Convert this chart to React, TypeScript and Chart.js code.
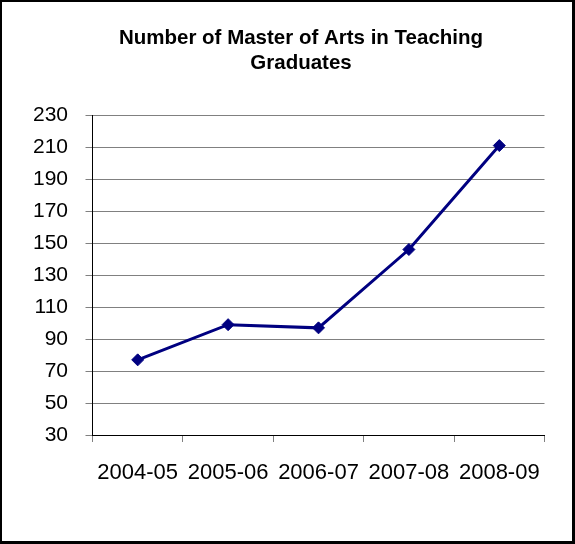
import React, { useEffect, useRef } from "react";
import { Chart, registerables } from "chart.js";

Chart.register(...registerables);

const categories = ["2004-05", "2005-06", "2006-07", "2007-08", "2008-09"];
const graduates = [77, 99, 97, 146, 211];
const titleLines = ["Number of Master of Arts in Teaching", "Graduates"];
const yMin = 30;
const yMax = 230;
const yStep = 20;

const FONT = "'Liberation Sans', Arial, sans-serif";

export default function App() {
  const ref = useRef<HTMLCanvasElement | null>(null);

  useEffect(() => {
    if (!ref.current) return;
    const chart = new Chart(ref.current, {
      type: "line",
      data: {
        labels: categories,
        datasets: [
          {
            data: graduates,
            borderColor: "#000080",
            backgroundColor: "#000080",
            borderWidth: 3,
            pointStyle: "rectRot",
            pointRadius: 6,
            pointBackgroundColor: "#000080",
            pointBorderColor: "#000080",
            pointBorderWidth: 1,
            tension: 0,
            yAxisID: "y",
          },
        ],
      },
      options: {
        responsive: false,
        animation: false,
        layout: { padding: { left: 30, right: 3, top: 0, bottom: 0 } },
        plugins: {
          legend: { display: false },
          tooltip: { enabled: false },
          title: {
            display: true,
            text: titleLines,
            color: "#000",
            font: { family: FONT, size: 20.5, weight: "bold", lineHeight: 1.2 },
            padding: { top: 26.5, bottom: 39.5 },
          },
        },
        scales: {
          x: {
            offset: true,
            grid: {
              display: true,
              offset: true,
              drawOnChartArea: false,
              drawTicks: true,
              tickLength: 7,
              color: "#808080",
            },
            border: { display: true, color: "#000", width: 1 },
            ticks: {
              color: "#000",
              font: { family: FONT, size: 22 },
              padding: 17.5,
              maxRotation: 0,
              autoSkip: false,
            },
            afterFit: (s: any) => {
              s.height = 109;
            },
          },
          y: {
            min: yMin,
            max: yMax,
            grid: {
              color: "#808080",
              drawTicks: true,
              tickLength: 7,
            },
            border: { display: true, color: "#000", width: 1 },
            ticks: {
              stepSize: yStep,
              color: "#000",
              font: { family: FONT, size: 21 },
              padding: 17.5,
            },
            afterFit: (s: any) => {
              s.width = 62.5;
            },
          },
          spacer: {
            type: "linear",
            position: "right",
            display: true,
            grid: { display: false, drawOnChartArea: false, drawTicks: false },
            border: { display: false },
            ticks: { display: false },
            afterFit: (s: any) => {
              s.width = 27.5;
            },
          },
        },
      },
    });
    return () => chart.destroy();
  }, []);

  return (
    <div style={{ position: "absolute", left: 0, top: 0, width: 575, height: 544, background: "#fff" }}>
      <canvas ref={ref} width={575} height={544} style={{ position: "absolute", left: 0, top: 0 }} />
      <div
        style={{
          position: "absolute",
          left: 0,
          top: 0,
          width: 575,
          height: 544,
          boxSizing: "border-box",
          borderStyle: "solid",
          borderColor: "#000",
          borderWidth: "2px 3px 3px 2px",
          pointerEvents: "none",
        }}
      />
    </div>
  );
}
